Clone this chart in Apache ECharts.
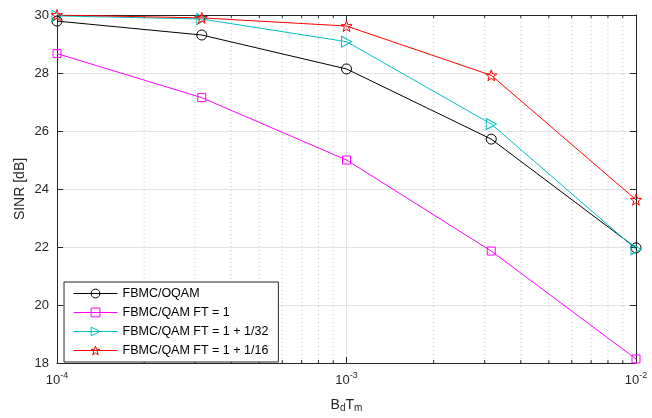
<!DOCTYPE html>
<html><head><meta charset="utf-8">
<script src="https://cdn.jsdelivr.net/npm/echarts@6/dist/echarts.min.js"></script>
<style>html,body{margin:0;padding:0;background:#fff}#c{width:652px;height:418px}</style>
</head><body><div id="c"></div>
<script>
var xValues = [1e-4, 3.1623e-4, 1e-3, 3.1623e-3, 1e-2];
var seriesNames = ['FBMC/OQAM', 'FBMC/QAM FT = 1', 'FBMC/QAM FT = 1 + 1/32', 'FBMC/QAM FT = 1 + 1/16'];
var oqam = [29.79, 29.31, 28.14, 25.72, 21.97];
var ft1 = [28.67, 27.15, 25.0, 21.86, 18.14];
var ft32 = [29.97, 29.86, 29.08, 26.24, 21.92];
var ft16 = [30.0, 29.9, 29.62, 27.92, 23.63];
var yTicks = [18, 20, 22, 24, 26, 28, 30];
var minorX = [2e-4,3e-4,4e-4,5e-4,6e-4,7e-4,8e-4,9e-4,2e-3,3e-3,4e-3,5e-3,6e-3,7e-3,8e-3,9e-3];

var FONT = 'Liberation Sans, Arial, Helvetica, sans-serif';
var AX = '#262626';
var STAR = 'path://M10 0 L12.35 6.76 L19.51 6.91 L13.8 11.24 L15.88 18.09 L10 14 L4.12 18.09 L6.2 11.24 L0.49 6.91 L7.65 6.76 Z';
var TRI = 'path://M0 0 L10 5 L0 10 Z';
var colors = ['#000000', '#ff00ff', '#00bfbf', '#ff0000'];

function pairs(ys){ return xValues.map(function(x,i){ return [x, ys[i]]; }); }
function mk(name, ys, color, symbol, size){
  return {
    name: name, type: 'line', data: pairs(ys), symbol: symbol, symbolSize: size,
    showAllSymbol: true, z: 5,
    lineStyle: {color: color, width: 1},
    itemStyle: {color: 'rgba(0,0,0,0)', borderColor: color, borderWidth: 1},
    emphasis: {disabled: true}, animation: false
  };
}
var yMin = yTicks[0], yMax = yTicks[yTicks.length-1];
var gridData = [], tickData = [];
minorX.forEach(function(x){
  gridData.push([x, yMin], [x, yMax], [x, '-']);
  tickData.push([x, yMin], [x, yMin + 0.1], [x, '-'], [x, yMax - 0.1], [x, yMax], [x, '-']);
});
function helper(data, style, z){
  return {type: 'line', data: data, symbol: 'none', silent: true, z: z, connectNulls: false,
    lineStyle: style, emphasis: {disabled: true}, animation: false, tooltip: {show: false}};
}

var s0 = mk(seriesNames[0], oqam, colors[0], 'circle', 10);
var s1 = mk(seriesNames[1], ft1, colors[1], 'rect', 8);
var s2 = mk(seriesNames[2], ft32, colors[2], TRI, [10, 11]);
var s3 = mk(seriesNames[3], ft16, colors[3], STAR, 11);
var gridSeries = helper(gridData, {type: [1, 3], color: '#c4c4c4', width: 1}, 1);
var tickSeries = helper(tickData, {type: 'solid', color: AX, width: 1}, 2);

var legendData = seriesNames.map(function(n, i){
  return {name: n, itemStyle: {color: 'rgba(0,0,0,0)', borderColor: colors[i], borderWidth: 1},
          lineStyle: {color: colors[i], width: 1}};
});

var option = {
  backgroundColor: '#fff',
  animation: false,
  grid: {left: 57, right: 16, top: 15, bottom: 55},
  legend: {
    data: legendData, orient: 'vertical', left: 64, top: 282,
    backgroundColor: '#fff', borderColor: AX, borderWidth: 1,
    padding: [5, 10, 5, 9], itemWidth: 44, itemHeight: 11, itemGap: 6,
    textStyle: {fontFamily: FONT, fontSize: 12.5, color: '#000'},
    selectedMode: false
  },
  xAxis: [{
    type: 'log', logBase: 10, min: 1e-4, max: 1e-2, interval: 1,
    axisLine: {show: true, onZero: false, lineStyle: {color: AX}},
    axisTick: {show: true, inside: true, length: 6, lineStyle: {color: AX}},
    splitLine: {show: true, lineStyle: {color: '#e3e3e3', width: 1}},
    axisLabel: {
      margin: 8, color: AX, fontFamily: FONT,
      formatter: function(v){ return '{a|10}{b|' + Math.round(Math.log10(v)) + '}'; },
      rich: {a: {fontSize: 13, fontFamily: FONT, color: AX}, b: {fontSize: 9, fontFamily: FONT, color: AX, padding: [0,0,9,0]}}
    },
    name: '{n|B}{s|d}{n|T}{s|m}', nameLocation: 'middle', nameGap: 34, nameMoveOverlap: false,
    nameTextStyle: {rich: {n: {fontSize: 14, fontFamily: FONT, color: AX}, s: {fontSize: 10, fontFamily: FONT, color: AX, padding: [6,0,0,0]}}}
  }, {
    type: 'log', logBase: 10, min: 1e-4, max: 1e-2, interval: 1, position: 'top',
    axisLine: {show: true, onZero: false, lineStyle: {color: AX}},
    axisTick: {show: true, inside: true, length: 6, lineStyle: {color: AX}},
    axisLabel: {show: false}, splitLine: {show: false}
  }],
  yAxis: [{
    type: 'value', min: yMin, max: yMax, interval: 2,
    axisLine: {show: true, onZero: false, lineStyle: {color: AX}},
    axisTick: {show: true, inside: true, length: 6, lineStyle: {color: AX}},
    splitLine: {show: true, lineStyle: {color: '#e3e3e3', width: 1}},
    axisLabel: {margin: 8, color: AX, fontFamily: FONT, fontSize: 13},
    name: 'SINR [dB]', nameLocation: 'middle', nameGap: 30, nameMoveOverlap: false,
    nameTextStyle: {fontSize: 14, fontFamily: FONT, color: AX}
  }, {
    type: 'value', min: yMin, max: yMax, interval: 2, position: 'right',
    axisLine: {show: true, onZero: false, lineStyle: {color: AX}},
    axisTick: {show: true, inside: true, length: 6, lineStyle: {color: AX}},
    axisLabel: {show: false}, splitLine: {show: false}
  }],
  series: [gridSeries, tickSeries, s0, s1, s2, s3]
};
var chart = echarts.init(document.getElementById('c'), null, {renderer: 'canvas'});
chart.setOption(option);
</script></body></html>
